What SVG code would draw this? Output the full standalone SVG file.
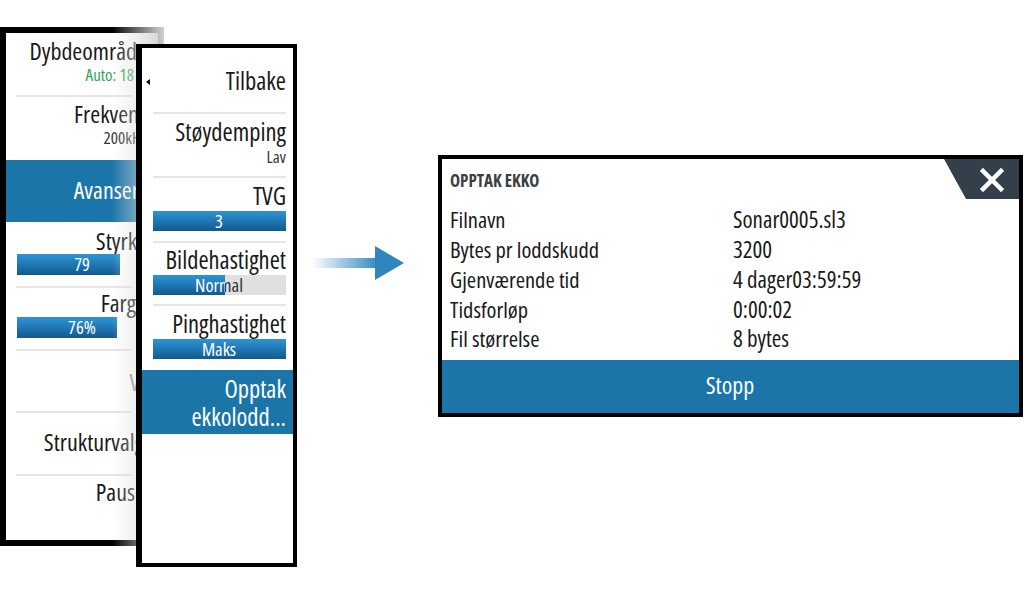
<svg xmlns="http://www.w3.org/2000/svg" width="1024" height="594" viewBox="0 0 1024 594">
<defs>
<style>
text{font-family:"Open Sans","Noto Sans",sans-serif;font-stretch:condensed}
.t{font-size:24.5px;fill:#1a1a1a;text-anchor:end}
.l{font-size:24px;fill:#1a1a1a;text-anchor:end}
.s{font-size:17px;fill:#333;text-anchor:end}
.sep{stroke:#dcdcdc;stroke-width:1.5}
.bv{font-size:18.5px;fill:#fff;text-anchor:middle}
.d{font-size:22.5px;fill:#1a1a1a}
.v{font-size:23px;fill:#1a1a1a}
</style>
<linearGradient id="bar" x1="0" y1="0" x2="0" y2="1">
<stop offset="0" stop-color="#2d95d6"/><stop offset="1" stop-color="#13598f"/>
</linearGradient>
<linearGradient id="fade" x1="0" y1="0" x2="1" y2="0">
<stop offset="0" stop-color="#e6e6e6" stop-opacity="0"/><stop offset="1" stop-color="#d0d0d0" stop-opacity="1"/>
</linearGradient>
<linearGradient id="arr" x1="312" y1="0" x2="380" y2="0" gradientUnits="userSpaceOnUse">
<stop offset="0" stop-color="#2f86bd" stop-opacity="0"/><stop offset="1" stop-color="#2f86bd"/>
</linearGradient>
<clipPath id="nl"><rect x="153" y="270" width="72" height="30"/></clipPath>
<clipPath id="nr"><rect x="225" y="270" width="70" height="30"/></clipPath>
</defs>
<rect width="1024" height="594" fill="#fff"/>

<g id="panel1">
<rect x="3" y="30" width="158" height="513" fill="#fff" stroke="#000" stroke-width="6"/>
<text class="l" x="147" y="60">Dybdeområde</text>
<text class="s" x="134" y="81" style="fill:#2fa84f">Auto: 18</text>
<line class="sep" x1="16" y1="96" x2="132" y2="96"/>
<text class="l" x="147" y="123">Frekvens</text>
<text class="s" x="146" y="144">200kHz</text>
<rect x="6" y="160" width="152" height="62" fill="#1b75a9"/>
<text class="l" x="145" y="199" style="fill:#fff">Avansert</text>
<text class="l" x="147" y="250">Styrke</text>
<rect x="17" y="254" width="103" height="21" fill="url(#bar)"/>
<text class="bv" x="82" y="271">79</text>
<line class="sep" x1="16" y1="287" x2="132" y2="287"/>
<text class="l" x="146" y="312">Farge</text>
<rect x="17" y="317" width="100" height="21" fill="url(#bar)"/>
<text class="bv" x="82" y="334">76%</text>
<line class="sep" x1="16" y1="350" x2="132" y2="350"/>
<text class="l" x="140" y="391" style="fill:#888">V</text>
<line class="sep" x1="16" y1="412" x2="132" y2="412"/>
<text class="l" x="144" y="451">Strukturvalg</text>
<line class="sep" x1="16" y1="475" x2="132" y2="475"/>
<text class="l" x="145" y="501">Pause</text>
<rect x="112" y="27" width="52" height="519" fill="url(#fade)"/>
</g>

<g id="panel2">
<rect x="139" y="46" width="156" height="519" fill="#fff"/>
<rect x="139" y="46" width="156" height="519" fill="none" stroke="#000" stroke-width="4"/>
<rect x="136" y="44" width="6" height="523" fill="#000"/>
<path d="M150 79 L146 82 L150 85 Z" fill="#000"/>
<text class="t" x="286" y="90">Tilbake</text>
<line class="sep" x1="153" y1="113" x2="286" y2="113"/>
<text class="t" x="286" y="141">Støydemping</text>
<text class="s" x="286" y="163">Lav</text>
<line class="sep" x1="153" y1="177" x2="286" y2="177"/>
<text class="t" x="286" y="205">TVG</text>
<rect x="153" y="211" width="133" height="20" fill="url(#bar)"/>
<text class="bv" x="219" y="228">3</text>
<line class="sep" x1="153" y1="242" x2="286" y2="242"/>
<text class="t" x="286" y="269">Bildehastighet</text>
<rect x="153" y="275" width="133" height="20" fill="#e0e0e0"/>
<rect x="153" y="275" width="72" height="20" fill="url(#bar)"/>
<text class="bv" x="219" y="292" clip-path="url(#nl)">Normal</text>
<text class="bv" x="219" y="292" clip-path="url(#nr)" style="fill:#333">Normal</text>
<line class="sep" x1="153" y1="305" x2="286" y2="305"/>
<text class="t" x="286" y="333">Pinghastighet</text>
<rect x="153" y="339" width="133" height="20" fill="url(#bar)"/>
<text class="bv" x="219" y="356">Maks</text>
<rect x="142" y="370" width="151" height="64" fill="#1b75a9"/>
<text class="t" x="286" y="398" style="fill:#fff">Opptak</text>
<text class="t" x="286" y="426" style="fill:#fff">ekkolodd...</text>
</g>

<g id="connectors">
<rect x="312" y="258" width="66" height="10" fill="url(#arr)"/>
<path d="M375 246 L404 263 L375 280 Z" fill="#2f86bd"/>
</g>

<g id="dialog">
<rect x="440" y="157" width="581" height="258" fill="#fff" stroke="#000" stroke-width="4"/>
<path d="M944 159 L1019 159 L1019 199 L966 199 Z" fill="#333f4a"/>
<path d="M983 171 L1001 189 M1001 171 L983 189" stroke="#fff" stroke-width="4.5" stroke-linecap="square"/>
<text x="450" y="187" style="font-size:17px;font-weight:bold;fill:#3a3f44">OPPTAK EKKO</text>
<text class="d" x="450" y="228">Filnavn</text>
<text class="v" x="733" y="228">Sonar0005.sl3</text>
<text class="d" x="450" y="258">Bytes pr loddskudd</text>
<text class="v" x="733" y="258">3200</text>
<text class="d" x="450" y="288">Gjenværende tid</text>
<text class="v" x="733" y="288">4 dager03:59:59</text>
<text class="d" x="450" y="318">Tidsforløp</text>
<text class="v" x="733" y="318">0:00:02</text>
<text class="d" x="450" y="347">Fil størrelse</text>
<text class="v" x="733" y="347">8 bytes</text>
<rect x="442" y="360" width="577" height="53" fill="#1b75a9"/>
<text x="730" y="394" style="font-size:24px;fill:#fff;text-anchor:middle">Stopp</text>
</g>
</svg>
